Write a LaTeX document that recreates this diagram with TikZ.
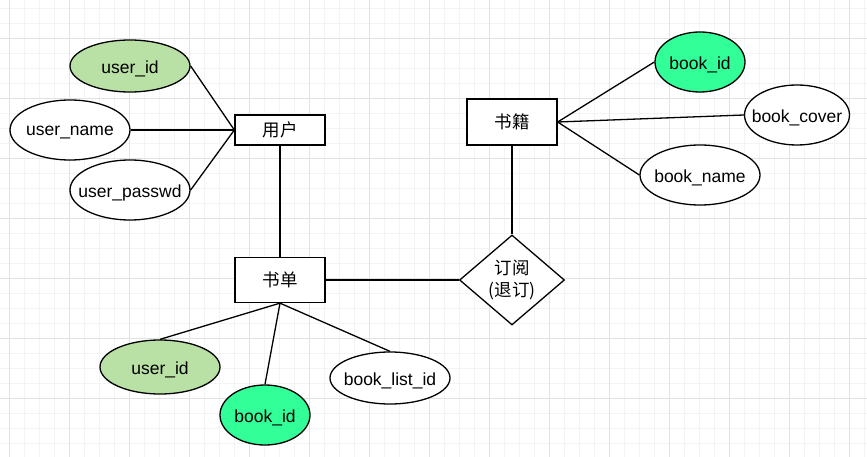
\documentclass[tikz,border=0pt]{standalone}
\usepackage{fontspec}
\setmainfont{Liberation Sans}
\newfontfamily\cjk{Noto Sans CJK SC}
\usetikzlibrary{shapes.geometric}
\definecolor{gridmajor}{HTML}{E2E2E2}
\definecolor{gridminor}{HTML}{F4F4F4}
\definecolor{keygreen}{HTML}{B9E0A5}
\definecolor{fkgreen}{HTML}{33FF99}
\tikzset{
  conn/.style={line width=1.3pt, black},
  entity/.style={draw=black, line width=1.3pt, fill=white, rectangle, minimum width=90pt, inner sep=0pt, font=\cjk\fontsize{17.5}{21}\selectfont},
  attr/.style={draw=black, line width=1.3pt, fill=white, ellipse, inner sep=0pt, label={[font=\fontsize{17.5}{21}\selectfont, yshift=-2.5pt]center:#1}},
  rel/.style={draw=black, line width=1.3pt, fill=white, diamond, inner sep=0pt, minimum width=105pt, minimum height=90pt}
}
\begin{document}
\begin{tikzpicture}[x=1pt,y=-1pt]
\useasboundingbox (0,0) rectangle (867,457);
\fill[white] (0,0) rectangle (867,457);
% grid
\foreach \gx in {-6,9,...,870} \draw[gridminor, line width=0.7pt] (\gx,0) -- (\gx,457);
\foreach \gy in {8,23,...,460} \draw[gridminor, line width=0.7pt] (0,\gy) -- (867,\gy);
\foreach \gx in {9,69,...,870} \draw[gridmajor, line width=0.7pt] (\gx,0) -- (\gx,457);
\foreach \gy in {38,98,...,460} \draw[gridmajor, line width=0.7pt] (0,\gy) -- (867,\gy);

% entities
\node[entity, minimum height=30pt] (user) at (280,130) {用户};
\node[entity, minimum height=45pt] (list) at (280,280) {书单};
\node[entity, minimum height=46pt] (book) at (512,122) {书籍};
\node[rel, label={[align=center, font=\cjk\fontsize{17.5}{22}\selectfont]center:订阅\\(退订)}] (sub) at (512,280) {};

% user attributes
\node[attr={user\_id}, fill=keygreen, minimum width=120pt, minimum height=52pt] (uid) at (130,66) {};
\node[attr={user\_name}, minimum width=120pt, minimum height=60pt] (uname) at (70,130) {};
\node[attr={user\_passwd}, minimum width=120pt, minimum height=60pt] (upw) at (130,190) {};

% book attributes
\node[attr={book\_id}, fill=fkgreen, minimum width=90pt, minimum height=60pt] (bid) at (700,62) {};
\node[attr={book\_cover}, minimum width=105pt, minimum height=60pt] (bcover) at (797,115) {};
\node[attr={book\_name}, minimum width=120pt, minimum height=60pt] (bname) at (700,175) {};

% list attributes
\node[attr={user\_id}, fill=keygreen, minimum width=120pt, minimum height=54pt] (luid) at (160,367) {};
\node[attr={book\_id}, fill=fkgreen, minimum width=90pt, minimum height=60pt] (lbid) at (265,415) {};
\node[attr={book\_list\_id}, minimum width=120pt, minimum height=52pt] (llid) at (390,378) {};

% connectors
\draw[conn] (uid.east) -- (user.west);
\draw[conn] (uname.east) -- (user.west);
\draw[conn] (upw.east) -- (user.west);
\draw[conn] (user.south) -- (list.north);
\draw[conn] (list.east) -- (sub.west);
\draw[conn] (book.south) -- (sub.north);
\draw[conn] (book.east) -- (bid.west);
\draw[conn] (book.east) -- (bcover.west);
\draw[conn] (book.east) -- (bname.west);
\draw[conn] (list.south) -- (luid.north);
\draw[conn] (list.south) -- (lbid.north);
\draw[conn] (list.south) -- (llid.north);
\end{tikzpicture}
\end{document}
